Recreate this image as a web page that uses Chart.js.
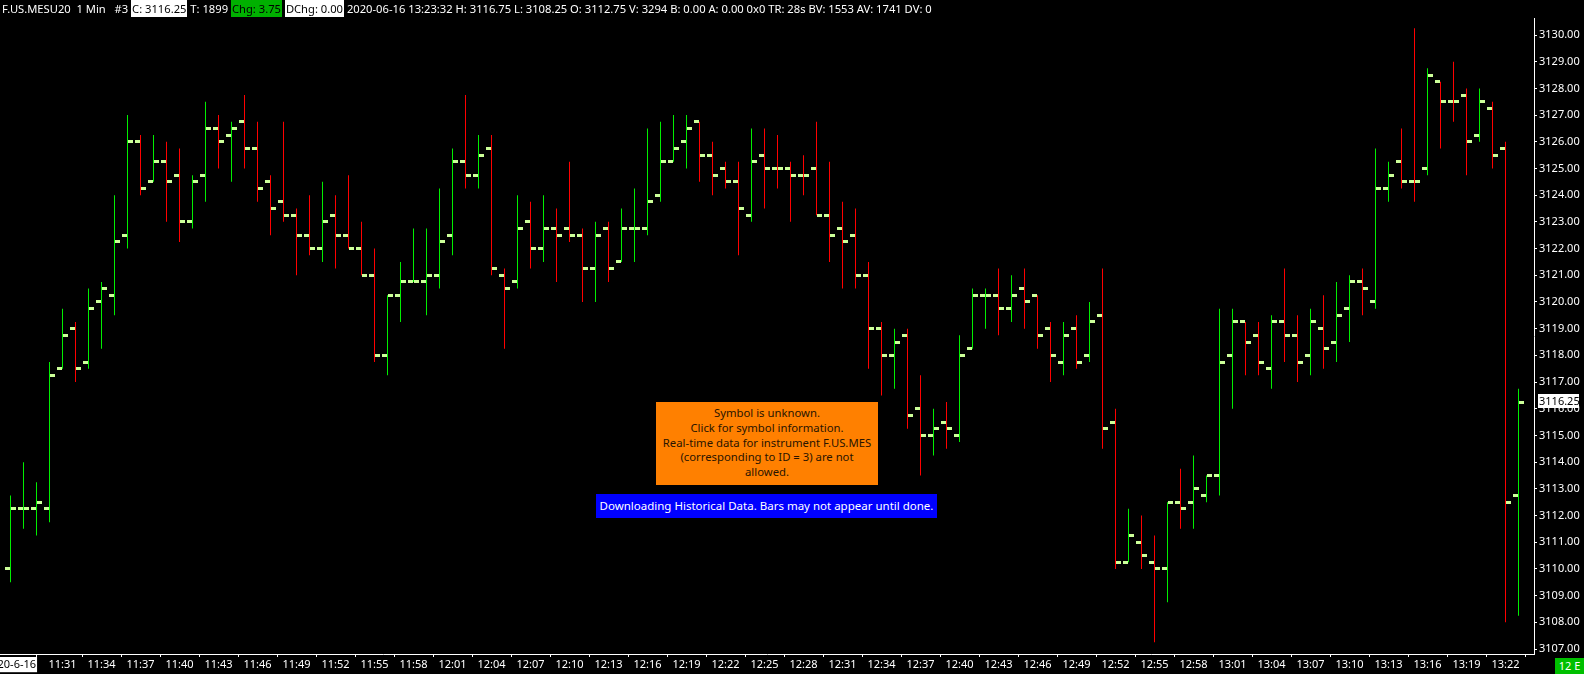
<!DOCTYPE html>
<html><head><meta charset="utf-8">
<script src="https://cdn.jsdelivr.net/npm/chart.js@4.4.1/dist/chart.umd.min.js"></script>
<style>
html,body{margin:0;padding:0;background:#000;overflow:hidden}
#wrap{position:relative;width:1584px;height:674px;background:#000}
#c{position:absolute;left:0;top:0}
.ov{position:absolute;font-family:'Noto Sans',sans-serif;font-size:11.3px;white-space:pre}
#hdr{left:2px;top:0;height:18px;line-height:18px;color:#fff;font-size:11.2px}
#hdr span.b{display:inline-block;height:17px;line-height:17px;padding:0 1px}
#hdr .w{background:#fff;color:#000}
#hdr .g{background:#00b000;color:#000}
#msg{left:656px;top:402px;width:222px;height:83px;background:#ff8000;color:#2a1400;text-align:center;line-height:14.8px;padding-top:4px;box-sizing:border-box}
#dl{left:596px;top:494px;width:341px;height:24px;line-height:24px;background:#0000ff;color:#fff;text-align:center;font-size:11.5px}
#px{left:1538px;width:41px;height:14px;line-height:14px;background:#fff;color:#000;padding-left:1px;box-sizing:border-box;font-size:11px}
#tz{left:1555px;top:658px;width:29px;height:16px;line-height:16px;background:#00c000;color:#fff;text-align:center;font-size:11px}
</style></head>
<body><div id="wrap"><canvas id="c" width="1584" height="674"></canvas>
<div id="hdr" class="ov"></div>
<div id="msg" class="ov">Symbol is unknown.
Click for symbol information.
Real-time data for instrument F.US.MES
(corresponding to ID = 3) are not
allowed.</div>
<div id="dl" class="ov">Downloading Historical Data. Bars may not appear until done.</div>
<div id="px" class="ov"></div>
<div id="tz" class="ov">12 E</div>
</div>
<script>
// ---- data ----
const times = ['11:27','11:28','11:29','11:30','11:31','11:32','11:33','11:34','11:35','11:36','11:37','11:38','11:39','11:40','11:41','11:42','11:43','11:44','11:45','11:46','11:47','11:48','11:49','11:50','11:51','11:52','11:53','11:54','11:55','11:56','11:57','11:58','11:59',
'12:00','12:01','12:02','12:03','12:04','12:05','12:06','12:07','12:08','12:09','12:10','12:11','12:12','12:13','12:14','12:15','12:16','12:17','12:18','12:19','12:20','12:21','12:22','12:23','12:24','12:25','12:26','12:27','12:28','12:29','12:30','12:31','12:32','12:33','12:34','12:35','12:36','12:37','12:38','12:39','12:40','12:41','12:42','12:43','12:44','12:45','12:46','12:47','12:48','12:49','12:50','12:51','12:52','12:53','12:54','12:55','12:56','12:57','12:58','12:59',
'13:00','13:01','13:02','13:03','13:04','13:05','13:06','13:07','13:08','13:09','13:10','13:11','13:12','13:13','13:14','13:15','13:16','13:17','13:18','13:19','13:20','13:21','13:22','13:23'];
const open = [3110.00,3112.25,3112.25,3112.25,3117.50,3119.00,3117.75,3120.00,3120.25,3122.50,
3126.00,3124.50,3125.25,3124.75,3123.00,3124.75,3126.50,3126.25,3126.75,3125.75,
3124.50,3123.75,3123.25,3122.50,3122.00,3123.25,3122.50,3122.00,3121.00,3118.00,
3120.25,3120.75,3120.75,3121.00,3122.50,3125.25,3124.75,3125.75,3121.00,3120.75,
3123.00,3122.00,3122.75,3122.75,3122.50,3121.25,3122.75,3121.50,3122.75,3122.75,
3124.00,3125.25,3126.00,3126.75,3125.50,3125.00,3124.50,3123.25,3125.50,3125.00,
3125.00,3124.75,3125.00,3123.25,3122.75,3122.50,3121.00,3119.00,3118.00,3118.75,
3116.00,3115.00,3115.50,3115.00,3118.25,3120.25,3120.25,3119.75,3120.50,3120.25,
3119.00,3117.75,3119.00,3118.00,3119.50,3115.50,3110.25,3111.00,3110.25,3110.00,
3112.50,3112.50,3112.75,3113.50,3118.00,3119.25,3118.75,3117.50,3119.25,3118.75,
3118.00,3119.00,3118.50,3119.75,3120.75,3120.00,3124.25,3125.25,3124.50,3125.00,
3128.25,3127.50,3127.75,3126.25,3127.25,3125.75,3112.75];
const high = [3112.75,3114.00,3113.25,3117.75,3119.75,3119.25,3120.50,3120.75,3124.00,3127.00,
3126.25,3126.25,3126.00,3125.75,3124.75,3127.50,3127.00,3126.75,3127.75,3126.75,
3124.75,3126.75,3123.50,3124.00,3124.50,3124.00,3124.75,3123.00,3122.00,3120.25,
3121.50,3122.75,3122.75,3124.25,3125.75,3127.75,3126.25,3126.25,3121.25,3124.00,
3123.75,3124.00,3123.50,3125.25,3122.75,3123.00,3123.00,3123.50,3124.25,3126.50,
3126.75,3127.00,3127.00,3126.75,3126.00,3125.25,3125.25,3126.50,3126.50,3126.25,
3125.25,3125.50,3126.75,3125.25,3123.75,3123.50,3121.50,3119.25,3119.00,3119.00,
3117.25,3116.00,3116.25,3118.75,3120.50,3120.50,3121.25,3121.00,3121.25,3120.25,
3119.25,3119.25,3119.50,3120.00,3121.25,3116.00,3112.25,3112.00,3111.25,3112.50,
3113.75,3114.25,3113.50,3119.75,3119.75,3119.25,3119.25,3119.50,3121.25,3119.50,
3119.75,3120.25,3120.75,3121.00,3121.25,3125.75,3125.25,3126.50,3130.25,3128.75,
3128.25,3129.00,3128.00,3128.00,3127.50,3126.00,3116.75];
const low = [3109.50,3111.50,3111.25,3111.75,3117.50,3117.00,3117.50,3118.25,3119.50,3122.00,
3124.00,3124.50,3123.00,3122.25,3122.75,3123.75,3125.00,3124.50,3125.00,3123.75,
3122.50,3123.00,3121.00,3121.75,3121.50,3121.25,3122.00,3121.00,3117.75,3117.25,
3119.25,3120.75,3119.50,3120.50,3121.75,3124.25,3124.25,3121.00,3118.25,3120.50,
3121.25,3121.50,3120.75,3122.25,3120.00,3120.00,3120.75,3121.50,3121.50,3122.50,
3123.75,3125.25,3125.00,3124.50,3124.00,3124.25,3121.75,3123.00,3123.50,3124.25,
3123.00,3124.00,3123.25,3121.50,3120.50,3120.50,3117.50,3116.50,3116.75,3115.25,
3113.50,3114.25,3114.50,3114.75,3118.25,3119.00,3118.75,3119.25,3119.00,3118.25,
3117.00,3117.25,3117.50,3117.75,3114.50,3110.00,3110.25,3110.00,3107.25,3108.75,
3111.50,3111.50,3112.50,3112.75,3116.00,3117.25,3117.25,3116.75,3117.75,3117.00,
3117.25,3117.50,3117.75,3118.50,3119.50,3119.75,3123.75,3124.25,3123.75,3124.75,
3125.75,3126.75,3124.75,3126.00,3125.00,3108.00,3108.25];
const close = [3112.25,3112.25,3112.50,3117.25,3118.75,3117.50,3119.75,3120.50,3122.25,3126.00,
3124.25,3125.25,3124.50,3123.00,3124.50,3126.50,3126.00,3126.50,3125.75,3124.25,
3123.50,3123.25,3122.50,3122.00,3123.00,3122.50,3122.00,3121.00,3118.00,3120.25,
3120.75,3120.75,3121.00,3122.25,3125.25,3124.75,3125.50,3121.25,3120.50,3122.75,
3122.00,3122.75,3122.50,3122.50,3121.25,3122.50,3121.25,3122.75,3122.75,3123.75,
3125.25,3125.75,3126.50,3125.50,3124.75,3124.50,3123.50,3125.25,3125.00,3125.00,
3124.75,3124.75,3123.25,3122.50,3122.25,3121.00,3119.00,3118.00,3118.50,3115.75,
3115.00,3115.25,3115.25,3118.00,3120.25,3120.25,3119.75,3120.25,3120.00,3118.75,
3118.00,3118.75,3117.75,3119.25,3115.25,3110.25,3111.25,3110.50,3110.00,3112.50,
3112.25,3113.00,3113.50,3117.75,3119.25,3118.50,3117.75,3119.25,3118.75,3117.75,
3119.25,3118.25,3119.50,3120.75,3120.50,3124.25,3124.75,3124.50,3124.50,3128.50,
3127.50,3127.50,3126.00,3127.50,3125.50,3112.50,3116.25];
const yTickValues = [3107,3108,3109,3110,3111,3112,3113,3114,3115,3116,3117,3118,3119,3120,3121,3122,3123,3124,3125,3126,3127,3128,3129,3130];
const xTickLabels = ['11:31','11:34','11:37','11:40','11:43','11:46','11:49','11:52','11:55','11:58','12:01','12:04','12:07','12:10','12:13','12:16','12:19','12:22','12:25','12:28','12:31','12:34','12:37','12:40','12:43','12:46','12:49','12:52','12:55','12:58','13:01','13:04','13:07','13:10','13:13','13:16','13:19','13:22'];
const dateLabel = '2020-6-16';

// ---- styling / layout ----
const UP = '#00ee00', DN = '#ff0000', TICK = '#ccff99';
const PX_PER_BAR = 13, PLOT_RIGHT = 1534, PLOT_TOP = 18, PLOT_BOTTOM = 654;
const PX_PER_PT = 614 / 23;
const xMin = -10.5 / PX_PER_BAR, xMax = xMin + PLOT_RIGHT / PX_PER_BAR;
const yMax = 3130 + (35 - PLOT_TOP) / PX_PER_PT, yMin = 3107 - (PLOT_BOTTOM - 649) / PX_PER_PT;

const barColors = [];
let prevCol = UP;
for (let i = 0; i < times.length; i++) {
  const c = close[i] > open[i] ? UP : (close[i] < open[i] ? DN : prevCol);
  barColors.push(c); prevCol = c;
}
function tickImg(side) {
  const c = document.createElement('canvas'); c.width = 11; c.height = 3;
  const g = c.getContext('2d'); g.fillStyle = TICK; g.fillRect(side < 0 ? 0 : 6, 0, 5, 3);
  return c;
}
const xTickValues = [0].concat(xTickLabels.map(l => times.indexOf(l)));

Chart.defaults.font.family = "'Noto Sans', sans-serif";
Chart.defaults.font.size = 11;

const chart = new Chart(document.getElementById('c'), {
  type: 'bar',
  data: {
    datasets: [
      { type: 'bar', data: times.map((t, i) => ({ x: i, y: [low[i], high[i]] })), backgroundColor: barColors,
        barThickness: 1, inflateAmount: 0, borderWidth: 0, order: 3 },
      { type: 'scatter', data: times.map((t, i) => ({ x: i, y: open[i] })), pointStyle: tickImg(-1), pointRadius: 2, pointBorderWidth: 0, order: 1 },
      { type: 'scatter', data: times.map((t, i) => ({ x: i, y: close[i] })), pointStyle: tickImg(1), pointRadius: 2, pointBorderWidth: 0, order: 1 }
    ]
  },
  options: {
    responsive: false, animation: false, devicePixelRatio: 1, events: [],
    layout: { autoPadding: false, padding: { top: PLOT_TOP, left: 0, right: 0, bottom: 0 } },
    plugins: { legend: { display: false }, tooltip: { enabled: false } },
    scales: {
      x: {
        type: 'linear', min: xMin, max: xMax, offset: false,
        afterBuildTicks: s => { s.ticks = xTickValues.map(v => ({ value: v })); },
        afterFit: s => { s.height = 674 - PLOT_BOTTOM; s.paddingLeft = 0; s.paddingRight = 0; },
        grid: { drawOnChartArea: false, drawTicks: true, tickLength: 3, tickColor: '#ffffff', tickWidth: 1 },
        border: { display: true, color: '#ffffff', width: 1 },
        ticks: {
          autoSkip: false, maxRotation: 0, minRotation: 0, padding: 1,
          color: ctx => ctx.index === 0 ? '#000000' : '#ffffff',
          showLabelBackdrop: ctx => ctx.index === 0, backdropColor: '#ffffff', backdropPadding: { x: 1, y: 1 },
          callback: (v, i) => i === 0 ? dateLabel : xTickLabels[i - 1]
        }
      },
      y: {
        type: 'linear', position: 'right', min: yMin, max: yMax,
        afterBuildTicks: s => { s.ticks = yTickValues.map(v => ({ value: v })); },
        afterFit: s => { s.width = 1584 - PLOT_RIGHT; s.paddingTop = 0; s.paddingBottom = 0; },
        grid: { drawOnChartArea: false, drawTicks: true, tickLength: 3, tickColor: '#ffffff', tickWidth: 1 },
        border: { display: true, color: '#ffffff', width: 1 },
        ticks: { autoSkip: false, padding: 2, color: '#ffffff', callback: v => Number(v).toFixed(2) }
      }
    }
  }
});

// header built from data
const L = times.length - 1;
document.getElementById('hdr').innerHTML =
  'F.US.MESU20  1 Min   #3 <span class="b w">C: ' + close[L].toFixed(2) + '</span> T: 1899 <span class="b g">Chg: 3.75</span> <span class="b w">DChg: 0.00</span> 2020-06-16 13:23:32 H: ' +
  high[L].toFixed(2) + ' L: ' + low[L].toFixed(2) + ' O: ' + open[L].toFixed(2) +
  ' V: 3294 B: 0.00 A: 0.00 0x0 TR: 28s BV: 1553 AV: 1741 DV: 0';

const px = document.getElementById('px');
px.textContent = close[L].toFixed(2);
px.style.top = (Math.round(chart.scales.y.getPixelForValue(close[L])) - 8) + 'px';
</script>
</body></html>
